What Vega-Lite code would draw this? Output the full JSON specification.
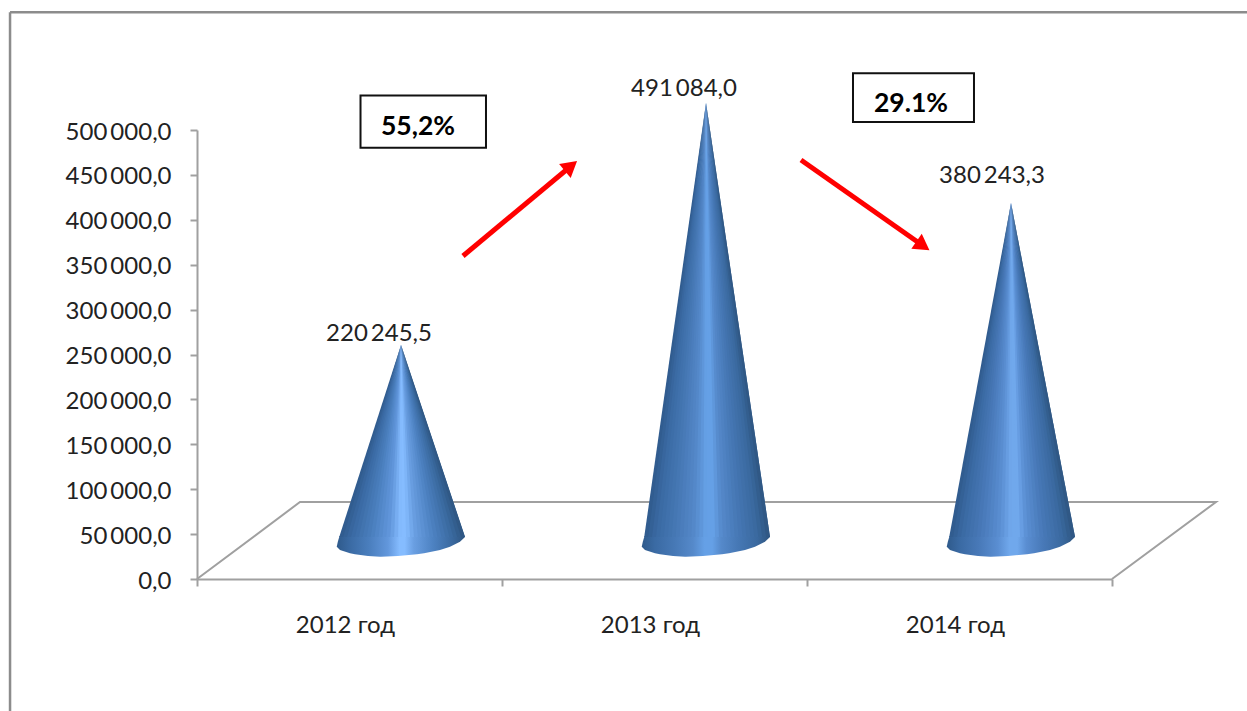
{
"$schema":"https://vega.github.io/schema/vega-lite/v6.json",
"width":915,"height":449,
"autosize":{"type":"none"},
"padding":{"left":197,"top":130,"right":135,"bottom":132},
"background":"white",
"view":{"stroke":null},
"resolve":{"axis":{"x":"independent"}},
"datasets":{
"bases":[
{"c":1,"v":48000,"l":0.4675,"r":0.8775},{"c":1,"v":46770,"l":0.4663,"r":0.8787},{"c":1,"v":41537,"l":0.4617,"r":0.8623},{"c":1,"v":35969,"l":0.4581,"r":0.8296},{"c":1,"v":32294,"l":0.4689,"r":0.7968},{"c":1,"v":28619,"l":0.5017,"r":0.7443},{"c":1,"v":27505,"l":0.5181,"r":0.7214},{"c":1,"v":25612,"l":0.5607,"r":0.6591},{"c":1,"v":24833,"l":0.6001,"r":0.6033},
{"c":2,"v":48000,"l":1.4675,"r":1.8775},{"c":2,"v":46770,"l":1.4663,"r":1.8787},{"c":2,"v":41537,"l":1.4617,"r":1.8623},{"c":2,"v":35969,"l":1.4581,"r":1.8296},{"c":2,"v":32294,"l":1.4689,"r":1.7968},{"c":2,"v":28619,"l":1.5017,"r":1.7443},{"c":2,"v":27505,"l":1.5181,"r":1.7214},{"c":2,"v":25612,"l":1.5607,"r":1.6591},{"c":2,"v":24833,"l":1.6001,"r":1.6033},
{"c":3,"v":48000,"l":2.4675,"r":2.8775},{"c":3,"v":46770,"l":2.4663,"r":2.8787},{"c":3,"v":41537,"l":2.4617,"r":2.8623},{"c":3,"v":35969,"l":2.4581,"r":2.8296},{"c":3,"v":32294,"l":2.4689,"r":2.7968},{"c":3,"v":28619,"l":2.5017,"r":2.7443},{"c":3,"v":27505,"l":2.5181,"r":2.7214},{"c":3,"v":25612,"l":2.5607,"r":2.6591},{"c":3,"v":24833,"l":2.6001,"r":2.6033}
],
"slices":[
{"s":"100","t":0.0156,"v":260578,"l":0.6689,"r":0.6689},{"s":"100","t":0.0156,"v":46770,"l":0.4663,"r":0.4921},
{"s":"101","t":0.0469,"v":260578,"l":0.6689,"r":0.6689},{"s":"101","t":0.0469,"v":46770,"l":0.4792,"r":0.5050},
{"s":"102","t":0.0781,"v":260578,"l":0.6689,"r":0.6689},{"s":"102","t":0.0781,"v":46770,"l":0.4921,"r":0.5179},
{"s":"103","t":0.1094,"v":260578,"l":0.6689,"r":0.6689},{"s":"103","t":0.1094,"v":46770,"l":0.5050,"r":0.5307},
{"s":"104","t":0.1406,"v":260578,"l":0.6689,"r":0.6689},{"s":"104","t":0.1406,"v":46770,"l":0.5179,"r":0.5436},
{"s":"105","t":0.1719,"v":260578,"l":0.6689,"r":0.6689},{"s":"105","t":0.1719,"v":46770,"l":0.5307,"r":0.5565},
{"s":"106","t":0.2031,"v":260578,"l":0.6689,"r":0.6689},{"s":"106","t":0.2031,"v":46770,"l":0.5436,"r":0.5694},
{"s":"107","t":0.2344,"v":260578,"l":0.6689,"r":0.6689},{"s":"107","t":0.2344,"v":46770,"l":0.5565,"r":0.5823},
{"s":"108","t":0.2656,"v":260578,"l":0.6689,"r":0.6689},{"s":"108","t":0.2656,"v":46770,"l":0.5694,"r":0.5952},
{"s":"109","t":0.2969,"v":260578,"l":0.6689,"r":0.6689},{"s":"109","t":0.2969,"v":46770,"l":0.5823,"r":0.6081},
{"s":"110","t":0.3281,"v":260578,"l":0.6689,"r":0.6689},{"s":"110","t":0.3281,"v":46770,"l":0.5952,"r":0.6210},
{"s":"111","t":0.3594,"v":260578,"l":0.6689,"r":0.6689},{"s":"111","t":0.3594,"v":46770,"l":0.6081,"r":0.6339},
{"s":"112","t":0.3906,"v":260578,"l":0.6689,"r":0.6689},{"s":"112","t":0.3906,"v":46770,"l":0.6210,"r":0.6467},
{"s":"113","t":0.4219,"v":260578,"l":0.6689,"r":0.6689},{"s":"113","t":0.4219,"v":46770,"l":0.6339,"r":0.6596},
{"s":"114","t":0.4531,"v":260578,"l":0.6689,"r":0.6689},{"s":"114","t":0.4531,"v":46770,"l":0.6467,"r":0.6725},
{"s":"115","t":0.4844,"v":260578,"l":0.6689,"r":0.6689},{"s":"115","t":0.4844,"v":46770,"l":0.6596,"r":0.6854},
{"s":"116","t":0.5156,"v":260578,"l":0.6689,"r":0.6689},{"s":"116","t":0.5156,"v":46770,"l":0.6725,"r":0.6983},
{"s":"117","t":0.5469,"v":260578,"l":0.6689,"r":0.6689},{"s":"117","t":0.5469,"v":46770,"l":0.6854,"r":0.7112},
{"s":"118","t":0.5781,"v":260578,"l":0.6689,"r":0.6689},{"s":"118","t":0.5781,"v":46770,"l":0.6983,"r":0.7241},
{"s":"119","t":0.6094,"v":260578,"l":0.6689,"r":0.6689},{"s":"119","t":0.6094,"v":46770,"l":0.7112,"r":0.7370},
{"s":"120","t":0.6406,"v":260578,"l":0.6689,"r":0.6689},{"s":"120","t":0.6406,"v":46770,"l":0.7241,"r":0.7499},
{"s":"121","t":0.6719,"v":260578,"l":0.6689,"r":0.6689},{"s":"121","t":0.6719,"v":46770,"l":0.7370,"r":0.7627},
{"s":"122","t":0.7031,"v":260578,"l":0.6689,"r":0.6689},{"s":"122","t":0.7031,"v":46770,"l":0.7499,"r":0.7756},
{"s":"123","t":0.7344,"v":260578,"l":0.6689,"r":0.6689},{"s":"123","t":0.7344,"v":46770,"l":0.7627,"r":0.7885},
{"s":"124","t":0.7656,"v":260578,"l":0.6689,"r":0.6689},{"s":"124","t":0.7656,"v":46770,"l":0.7756,"r":0.8014},
{"s":"125","t":0.7969,"v":260578,"l":0.6689,"r":0.6689},{"s":"125","t":0.7969,"v":46770,"l":0.7885,"r":0.8143},
{"s":"126","t":0.8281,"v":260578,"l":0.6689,"r":0.6689},{"s":"126","t":0.8281,"v":46770,"l":0.8014,"r":0.8272},
{"s":"127","t":0.8594,"v":260578,"l":0.6689,"r":0.6689},{"s":"127","t":0.8594,"v":46770,"l":0.8143,"r":0.8401},
{"s":"128","t":0.8906,"v":260578,"l":0.6689,"r":0.6689},{"s":"128","t":0.8906,"v":46770,"l":0.8272,"r":0.8530},
{"s":"129","t":0.9219,"v":260578,"l":0.6689,"r":0.6689},{"s":"129","t":0.9219,"v":46770,"l":0.8401,"r":0.8658},
{"s":"130","t":0.9531,"v":260578,"l":0.6689,"r":0.6689},{"s":"130","t":0.9531,"v":46770,"l":0.8530,"r":0.8787},
{"s":"131","t":0.9844,"v":260578,"l":0.6689,"r":0.6689},{"s":"131","t":0.9844,"v":46770,"l":0.8658,"r":0.8787},

{"s":"200","t":2.0156,"v":530064,"l":1.6689,"r":1.6689},{"s":"200","t":2.0156,"v":46770,"l":1.4663,"r":1.4921},
{"s":"201","t":2.0469,"v":530064,"l":1.6689,"r":1.6689},{"s":"201","t":2.0469,"v":46770,"l":1.4792,"r":1.5050},
{"s":"202","t":2.0781,"v":530064,"l":1.6689,"r":1.6689},{"s":"202","t":2.0781,"v":46770,"l":1.4921,"r":1.5179},
{"s":"203","t":2.1094,"v":530064,"l":1.6689,"r":1.6689},{"s":"203","t":2.1094,"v":46770,"l":1.5050,"r":1.5307},
{"s":"204","t":2.1406,"v":530064,"l":1.6689,"r":1.6689},{"s":"204","t":2.1406,"v":46770,"l":1.5179,"r":1.5436},
{"s":"205","t":2.1719,"v":530064,"l":1.6689,"r":1.6689},{"s":"205","t":2.1719,"v":46770,"l":1.5307,"r":1.5565},
{"s":"206","t":2.2031,"v":530064,"l":1.6689,"r":1.6689},{"s":"206","t":2.2031,"v":46770,"l":1.5436,"r":1.5694},
{"s":"207","t":2.2344,"v":530064,"l":1.6689,"r":1.6689},{"s":"207","t":2.2344,"v":46770,"l":1.5565,"r":1.5823},
{"s":"208","t":2.2656,"v":530064,"l":1.6689,"r":1.6689},{"s":"208","t":2.2656,"v":46770,"l":1.5694,"r":1.5952},
{"s":"209","t":2.2969,"v":530064,"l":1.6689,"r":1.6689},{"s":"209","t":2.2969,"v":46770,"l":1.5823,"r":1.6081},
{"s":"210","t":2.3281,"v":530064,"l":1.6689,"r":1.6689},{"s":"210","t":2.3281,"v":46770,"l":1.5952,"r":1.6210},
{"s":"211","t":2.3594,"v":530064,"l":1.6689,"r":1.6689},{"s":"211","t":2.3594,"v":46770,"l":1.6081,"r":1.6339},
{"s":"212","t":2.3906,"v":530064,"l":1.6689,"r":1.6689},{"s":"212","t":2.3906,"v":46770,"l":1.6210,"r":1.6467},
{"s":"213","t":2.4219,"v":530064,"l":1.6689,"r":1.6689},{"s":"213","t":2.4219,"v":46770,"l":1.6339,"r":1.6596},
{"s":"214","t":2.4531,"v":530064,"l":1.6689,"r":1.6689},{"s":"214","t":2.4531,"v":46770,"l":1.6467,"r":1.6725},
{"s":"215","t":2.4844,"v":530064,"l":1.6689,"r":1.6689},{"s":"215","t":2.4844,"v":46770,"l":1.6596,"r":1.6854},
{"s":"216","t":2.5156,"v":530064,"l":1.6689,"r":1.6689},{"s":"216","t":2.5156,"v":46770,"l":1.6725,"r":1.6983},
{"s":"217","t":2.5469,"v":530064,"l":1.6689,"r":1.6689},{"s":"217","t":2.5469,"v":46770,"l":1.6854,"r":1.7112},
{"s":"218","t":2.5781,"v":530064,"l":1.6689,"r":1.6689},{"s":"218","t":2.5781,"v":46770,"l":1.6983,"r":1.7241},
{"s":"219","t":2.6094,"v":530064,"l":1.6689,"r":1.6689},{"s":"219","t":2.6094,"v":46770,"l":1.7112,"r":1.7370},
{"s":"220","t":2.6406,"v":530064,"l":1.6689,"r":1.6689},{"s":"220","t":2.6406,"v":46770,"l":1.7241,"r":1.7499},
{"s":"221","t":2.6719,"v":530064,"l":1.6689,"r":1.6689},{"s":"221","t":2.6719,"v":46770,"l":1.7370,"r":1.7627},
{"s":"222","t":2.7031,"v":530064,"l":1.6689,"r":1.6689},{"s":"222","t":2.7031,"v":46770,"l":1.7499,"r":1.7756},
{"s":"223","t":2.7344,"v":530064,"l":1.6689,"r":1.6689},{"s":"223","t":2.7344,"v":46770,"l":1.7627,"r":1.7885},
{"s":"224","t":2.7656,"v":530064,"l":1.6689,"r":1.6689},{"s":"224","t":2.7656,"v":46770,"l":1.7756,"r":1.8014},
{"s":"225","t":2.7969,"v":530064,"l":1.6689,"r":1.6689},{"s":"225","t":2.7969,"v":46770,"l":1.7885,"r":1.8143},
{"s":"226","t":2.8281,"v":530064,"l":1.6689,"r":1.6689},{"s":"226","t":2.8281,"v":46770,"l":1.8014,"r":1.8272},
{"s":"227","t":2.8594,"v":530064,"l":1.6689,"r":1.6689},{"s":"227","t":2.8594,"v":46770,"l":1.8143,"r":1.8401},
{"s":"228","t":2.8906,"v":530064,"l":1.6689,"r":1.6689},{"s":"228","t":2.8906,"v":46770,"l":1.8272,"r":1.8530},
{"s":"229","t":2.9219,"v":530064,"l":1.6689,"r":1.6689},{"s":"229","t":2.9219,"v":46770,"l":1.8401,"r":1.8658},
{"s":"230","t":2.9531,"v":530064,"l":1.6689,"r":1.6689},{"s":"230","t":2.9531,"v":46770,"l":1.8530,"r":1.8787},
{"s":"231","t":2.9844,"v":530064,"l":1.6689,"r":1.6689},{"s":"231","t":2.9844,"v":46770,"l":1.8658,"r":1.8787},

{"s":"300","t":4.0156,"v":418706,"l":2.6689,"r":2.6689},{"s":"300","t":4.0156,"v":46770,"l":2.4663,"r":2.4921},
{"s":"301","t":4.0469,"v":418706,"l":2.6689,"r":2.6689},{"s":"301","t":4.0469,"v":46770,"l":2.4792,"r":2.5050},
{"s":"302","t":4.0781,"v":418706,"l":2.6689,"r":2.6689},{"s":"302","t":4.0781,"v":46770,"l":2.4921,"r":2.5179},
{"s":"303","t":4.1094,"v":418706,"l":2.6689,"r":2.6689},{"s":"303","t":4.1094,"v":46770,"l":2.5050,"r":2.5307},
{"s":"304","t":4.1406,"v":418706,"l":2.6689,"r":2.6689},{"s":"304","t":4.1406,"v":46770,"l":2.5179,"r":2.5436},
{"s":"305","t":4.1719,"v":418706,"l":2.6689,"r":2.6689},{"s":"305","t":4.1719,"v":46770,"l":2.5307,"r":2.5565},
{"s":"306","t":4.2031,"v":418706,"l":2.6689,"r":2.6689},{"s":"306","t":4.2031,"v":46770,"l":2.5436,"r":2.5694},
{"s":"307","t":4.2344,"v":418706,"l":2.6689,"r":2.6689},{"s":"307","t":4.2344,"v":46770,"l":2.5565,"r":2.5823},
{"s":"308","t":4.2656,"v":418706,"l":2.6689,"r":2.6689},{"s":"308","t":4.2656,"v":46770,"l":2.5694,"r":2.5952},
{"s":"309","t":4.2969,"v":418706,"l":2.6689,"r":2.6689},{"s":"309","t":4.2969,"v":46770,"l":2.5823,"r":2.6081},
{"s":"310","t":4.3281,"v":418706,"l":2.6689,"r":2.6689},{"s":"310","t":4.3281,"v":46770,"l":2.5952,"r":2.6210},
{"s":"311","t":4.3594,"v":418706,"l":2.6689,"r":2.6689},{"s":"311","t":4.3594,"v":46770,"l":2.6081,"r":2.6339},
{"s":"312","t":4.3906,"v":418706,"l":2.6689,"r":2.6689},{"s":"312","t":4.3906,"v":46770,"l":2.6210,"r":2.6467},
{"s":"313","t":4.4219,"v":418706,"l":2.6689,"r":2.6689},{"s":"313","t":4.4219,"v":46770,"l":2.6339,"r":2.6596},
{"s":"314","t":4.4531,"v":418706,"l":2.6689,"r":2.6689},{"s":"314","t":4.4531,"v":46770,"l":2.6467,"r":2.6725},
{"s":"315","t":4.4844,"v":418706,"l":2.6689,"r":2.6689},{"s":"315","t":4.4844,"v":46770,"l":2.6596,"r":2.6854},
{"s":"316","t":4.5156,"v":418706,"l":2.6689,"r":2.6689},{"s":"316","t":4.5156,"v":46770,"l":2.6725,"r":2.6983},
{"s":"317","t":4.5469,"v":418706,"l":2.6689,"r":2.6689},{"s":"317","t":4.5469,"v":46770,"l":2.6854,"r":2.7112},
{"s":"318","t":4.5781,"v":418706,"l":2.6689,"r":2.6689},{"s":"318","t":4.5781,"v":46770,"l":2.6983,"r":2.7241},
{"s":"319","t":4.6094,"v":418706,"l":2.6689,"r":2.6689},{"s":"319","t":4.6094,"v":46770,"l":2.7112,"r":2.7370},
{"s":"320","t":4.6406,"v":418706,"l":2.6689,"r":2.6689},{"s":"320","t":4.6406,"v":46770,"l":2.7241,"r":2.7499},
{"s":"321","t":4.6719,"v":418706,"l":2.6689,"r":2.6689},{"s":"321","t":4.6719,"v":46770,"l":2.7370,"r":2.7627},
{"s":"322","t":4.7031,"v":418706,"l":2.6689,"r":2.6689},{"s":"322","t":4.7031,"v":46770,"l":2.7499,"r":2.7756},
{"s":"323","t":4.7344,"v":418706,"l":2.6689,"r":2.6689},{"s":"323","t":4.7344,"v":46770,"l":2.7627,"r":2.7885},
{"s":"324","t":4.7656,"v":418706,"l":2.6689,"r":2.6689},{"s":"324","t":4.7656,"v":46770,"l":2.7756,"r":2.8014},
{"s":"325","t":4.7969,"v":418706,"l":2.6689,"r":2.6689},{"s":"325","t":4.7969,"v":46770,"l":2.7885,"r":2.8143},
{"s":"326","t":4.8281,"v":418706,"l":2.6689,"r":2.6689},{"s":"326","t":4.8281,"v":46770,"l":2.8014,"r":2.8272},
{"s":"327","t":4.8594,"v":418706,"l":2.6689,"r":2.6689},{"s":"327","t":4.8594,"v":46770,"l":2.8143,"r":2.8401},
{"s":"328","t":4.8906,"v":418706,"l":2.6689,"r":2.6689},{"s":"328","t":4.8906,"v":46770,"l":2.8272,"r":2.8530},
{"s":"329","t":4.9219,"v":418706,"l":2.6689,"r":2.6689},{"s":"329","t":4.9219,"v":46770,"l":2.8401,"r":2.8658},
{"s":"330","t":4.9531,"v":418706,"l":2.6689,"r":2.6689},{"s":"330","t":4.9531,"v":46770,"l":2.8530,"r":2.8787},
{"s":"331","t":4.9844,"v":418706,"l":2.6689,"r":2.6689},{"s":"331","t":4.9844,"v":46770,"l":2.8658,"r":2.8787}
]
},
"layer":[
{"data":{"values":[{"x":-0.613,"y":631066,"x2":3.46,"y2":631066},{"x":-0.613,"y":631066,"x2":-0.613,"y2":-160000}]},
 "mark":{"type":"rule","color":"#8c8c8c","strokeWidth":2.5},
 "encoding":{"x":{"field":"x","type":"quantitative","scale":{"domain":[0,3]},"axis":null},"x2":{"field":"x2"},
  "y":{"field":"y","type":"quantitative","scale":{"domain":[0,500000]},
   "axis":{"title":null,"values":[0,50000,100000,150000,200000,250000,300000,350000,400000,450000,500000],"labelExpr":"replace(replace(format(datum.value,',.1f'),',','\u2009'),'.',',')","grid":false,"domainColor":"#a0a0a0","domainWidth":2,"tickColor":"#a0a0a0","tickWidth":2,"tickSize":7,"labelFont":"Lato","labelFontSize":24,"labelColor":"#222222","labelPadding":19,"labelOffset":2}},
  "y2":{"field":"y2"}}},
{"data":{"values":[{"x":0,"y":0,"o":1},{"x":0.3377,"y":85746,"o":2},{"x":3.341,"y":85746,"o":3},{"x":3,"y":0,"o":4}]},
 "mark":{"type":"line","color":"#a0a0a0","strokeWidth":2},
 "encoding":{"x":{"field":"x","type":"quantitative","axis":{"orient":"bottom","title":null,"values":[0,1,2,3],"labels":false,"grid":false,"domainColor":"#a0a0a0","domainWidth":2,"tickColor":"#a0a0a0","tickWidth":2,"tickSize":7}},
  "y":{"field":"y","type":"quantitative"},"order":{"field":"o"}}},
{"data":{"name":"bases"},"transform":[{"filter":"datum.c==1"}],
 "mark":{"type":"area","orient":"horizontal","line":false,"color":{"gradient":"linear","x1":0,"y1":0,"x2":1,"y2":0,"stops":[{"offset":0,"color":"#2f5a8b"},{"offset":0.1,"color":"#3a6aa3"},{"offset":0.25,"color":"#4a7ebd"},{"offset":0.4,"color":"#6297dc"},{"offset":0.49,"color":"#85bcff"},{"offset":0.53,"color":"#85bcff"},{"offset":0.6,"color":"#6a9fe2"},{"offset":0.75,"color":"#4d82c2"},{"offset":0.9,"color":"#3a699f"},{"offset":1,"color":"#2e5580"}]}},
 "encoding":{"x":{"field":"l","type":"quantitative","axis":null},"x2":{"field":"r"},"y":{"field":"v","type":"quantitative"}}},
{"data":{"name":"bases"},"transform":[{"filter":"datum.c==2"}],
 "mark":{"type":"area","orient":"horizontal","line":false,"color":{"gradient":"linear","x1":0,"y1":0,"x2":1,"y2":0,"stops":[{"offset":0,"color":"#2f5a8b"},{"offset":0.1,"color":"#3a6aa3"},{"offset":0.25,"color":"#4678b5"},{"offset":0.4,"color":"#5589ca"},{"offset":0.49,"color":"#65a0e6"},{"offset":0.55,"color":"#65a0e6"},{"offset":0.62,"color":"#5589ca"},{"offset":0.75,"color":"#4678b5"},{"offset":0.9,"color":"#3a699f"},{"offset":1,"color":"#2e5580"}]}},
 "encoding":{"x":{"field":"l","type":"quantitative","axis":null},"x2":{"field":"r"},"y":{"field":"v","type":"quantitative"}}},
{"data":{"name":"bases"},"transform":[{"filter":"datum.c==3"}],
 "mark":{"type":"area","orient":"horizontal","line":false,"color":{"gradient":"linear","x1":0,"y1":0,"x2":1,"y2":0,"stops":[{"offset":0,"color":"#2f5a8b"},{"offset":0.1,"color":"#3a6aa3"},{"offset":0.25,"color":"#4879b8"},{"offset":0.4,"color":"#5a8ed2"},{"offset":0.49,"color":"#70a8ec"},{"offset":0.55,"color":"#70a8ec"},{"offset":0.62,"color":"#5a8ed2"},{"offset":0.75,"color":"#4879b8"},{"offset":0.9,"color":"#3a699f"},{"offset":1,"color":"#2e5580"}]}},
 "encoding":{"x":{"field":"l","type":"quantitative","axis":null},"x2":{"field":"r"},"y":{"field":"v","type":"quantitative"}}},
{"data":{"name":"slices"},
 "mark":{"type":"area","orient":"horizontal","line":false},
 "encoding":{"x":{"field":"l","type":"quantitative","axis":{"orient":"bottom","title":null,"values":[0.485,1.485,2.485],"domain":false,"ticks":false,"grid":false,"labelExpr":"datum.value<1?'2012 год':datum.value<2?'2013 год':'2014 год'","labelFont":"Lato","labelFontSize":24,"labelColor":"#222222","labelPadding":34}},"x2":{"field":"r"},
  "y":{"field":"v","type":"quantitative"},"detail":{"field":"s","type":"nominal"},
  "color":{"field":"t","type":"quantitative","legend":null,"scale":{"type":"linear","domain":[0,0.1,0.25,0.4,0.49,0.53,0.6,0.75,0.9,1,2,2.1,2.25,2.4,2.49,2.55,2.62,2.75,2.9,3,4,4.1,4.25,4.4,4.49,4.55,4.62,4.75,4.9,5],
   "range":["#2f5a8b","#3a6aa3","#4a7ebd","#6297dc","#85bcff","#85bcff","#6a9fe2","#4d82c2","#3a699f","#2e5580","#2f5a8b","#3a6aa3","#4678b5","#5589ca","#65a0e6","#65a0e6","#5589ca","#4678b5","#3a699f","#2e5580","#2f5a8b","#3a6aa3","#4879b8","#5a8ed2","#70a8ec","#70a8ec","#5a8ed2","#4879b8","#3a699f","#2e5580"]}}}},
{"data":{"values":[{"x":0.5967,"y":272800,"label":"220\u2009245,5"},{"x":1.5967,"y":545700,"label":"491\u2009084,0"},{"x":2.6066,"y":448800,"label":"380\u2009243,3"}]},
 "mark":{"type":"text","font":"Lato","fontSize":24,"color":"#222222","align":"center","baseline":"middle"},
 "encoding":{"x":{"field":"x","type":"quantitative","axis":null},"y":{"field":"y","type":"quantitative"},"text":{"field":"label"}}},
{"data":{"values":[{"x":0.5361,"x2":0.9475,"y":538416,"y2":480287},{"x":2.1508,"x2":2.5475,"y":563137,"y2":508906}]},
 "mark":{"type":"rect","fill":"white","stroke":"#111111","strokeWidth":2},
 "encoding":{"x":{"field":"x","type":"quantitative","axis":null},"x2":{"field":"x2"},"y":{"field":"y","type":"quantitative"},"y2":{"field":"y2"}}},
{"data":{"values":[{"x":0.7246,"y":503500,"label":"55,2%"},{"x":2.341,"y":529500,"label":"29.1%"}]},
 "mark":{"type":"text","font":"Lato","fontWeight":"bold","fontSize":26.5,"color":"#000000","align":"center","baseline":"middle"},
 "encoding":{"x":{"field":"x","type":"quantitative","axis":null},"y":{"field":"y","type":"quantitative"},"text":{"field":"label"}}},
{"data":{"values":[{"x":0.8721,"y":359686,"x2":1.2262,"y2":459909},{"x":1.9803,"y":466590,"x2":2.3803,"y2":371156}]},
 "mark":{"type":"rule","color":"#ff0000","strokeWidth":5},
 "encoding":{"x":{"field":"x","type":"quantitative","axis":null},"x2":{"field":"x2"},"y":{"field":"y","type":"quantitative"},"y2":{"field":"y2"}}},
{"data":{"values":[{"x":1.2262,"y":459909}]},
 "mark":{"type":"point","shape":"triangle-up","filled":true,"color":"#ff0000","opacity":1,"size":330,"angle":50.5},
 "encoding":{"x":{"field":"x","type":"quantitative","axis":null},"y":{"field":"y","type":"quantitative"}}},
{"data":{"values":[{"x":2.3803,"y":371156}]},
 "mark":{"type":"point","shape":"triangle-up","filled":true,"color":"#ff0000","opacity":1,"size":330,"angle":125},
 "encoding":{"x":{"field":"x","type":"quantitative","axis":null},"y":{"field":"y","type":"quantitative"}}}
]
}
